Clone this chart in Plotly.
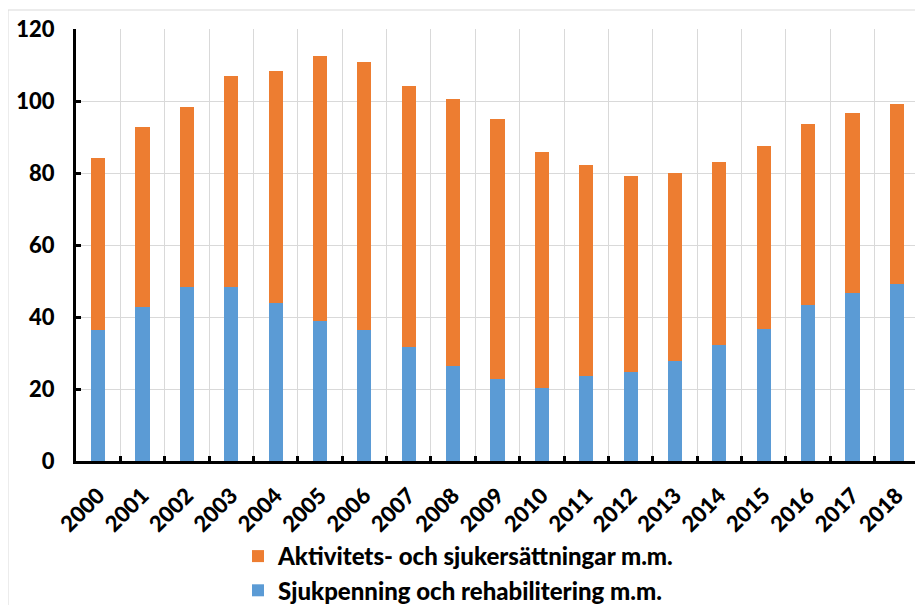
import plotly.graph_objects as go

years = [str(y) for y in range(2000, 2019)]
totals = [84.1, 92.9, 98.3, 106.9, 108.2, 112.4, 110.7, 104.1, 100.5, 95.1,
          85.7, 82.1, 79.3, 80.0, 83.0, 87.5, 93.7, 96.8, 99.2]
sjukpenning = [36.3, 42.7, 48.2, 48.3, 43.9, 38.8, 36.5, 31.6, 26.5, 22.7,
               20.4, 23.7, 24.7, 27.7, 32.1, 36.8, 43.2, 46.7, 49.2]
aktivitet = [round(t - s, 1) for t, s in zip(totals, sjukpenning)]

name_blue = "Sjukpenning och rehabilitering m.m."
name_orange = "Aktivitets- och sjukersättningar m.m."

FONT = "Lato"

fig = go.Figure()
fig.add_trace(go.Bar(x=years, y=sjukpenning, name=name_blue, legendrank=2,
                     marker=dict(color="#5B9BD5", line=dict(width=0))))
fig.add_trace(go.Bar(x=years, y=aktivitet, name=name_orange, legendrank=1,
                     marker=dict(color="#ED7D31", line=dict(width=0))))

# page body has an 8px margin, so figure coords = screen coords - 8
OFF = 8
L, R, T, B = 76 - OFF, 12, 29 - OFF, 152
W, H = 923, 605
pw, ph = W - L - R, H - T - B


def py(screen_y):
    return (H - B - (screen_y - OFF)) / ph


def px(screen_x):
    return (screen_x - OFF - L) / pw


fig.update_layout(
    width=W, height=H,
    barmode="stack", bargap=0.68,
    margin=dict(l=L, r=R, t=T, b=B, pad=0, autoexpand=False),
    paper_bgcolor="white", plot_bgcolor="white",
    font=dict(family=FONT, size=20, color="black"),
    legend=dict(orientation="v", traceorder="normal",
                x=px(238), xanchor="left",
                y=py(534), yanchor="top",
                font=dict(family=FONT, size=24, color="black", weight=900),
                bgcolor="rgba(0,0,0,0)", itemwidth=30, tracegroupgap=0),
    xaxis=dict(type="category", tickson="boundaries", showgrid=True,
               automargin=False,
               gridcolor="#D9D9D9", gridwidth=1,
               showline=True, linecolor="black", linewidth=3,
               ticks="inside", ticklen=5, tickwidth=3, tickcolor="black",
               tickangle=-45, ticklabelstandoff=10,
               tickfont=dict(family=FONT, size=22, color="black", weight=900)),
    yaxis=dict(range=[0, 120], dtick=20, showgrid=True, automargin=False,
               gridcolor="#D9D9D9", gridwidth=1, zeroline=False,
               showline=True, linecolor="black", linewidth=3,
               ticks="inside", ticklen=5, tickwidth=3, tickcolor="black",
               ticklabelstandoff=14,
               tickfont=dict(family=FONT, size=22, color="black", weight=900)),
    shapes=[dict(type="rect", xref="paper", yref="paper",
                 x0=px(8), x1=px(W + 20),
                 y0=py(H + 20), y1=py(10),
                 line=dict(color="#D9D9D9", width=1), layer="below")],
)

fig.write_html("out.html")
